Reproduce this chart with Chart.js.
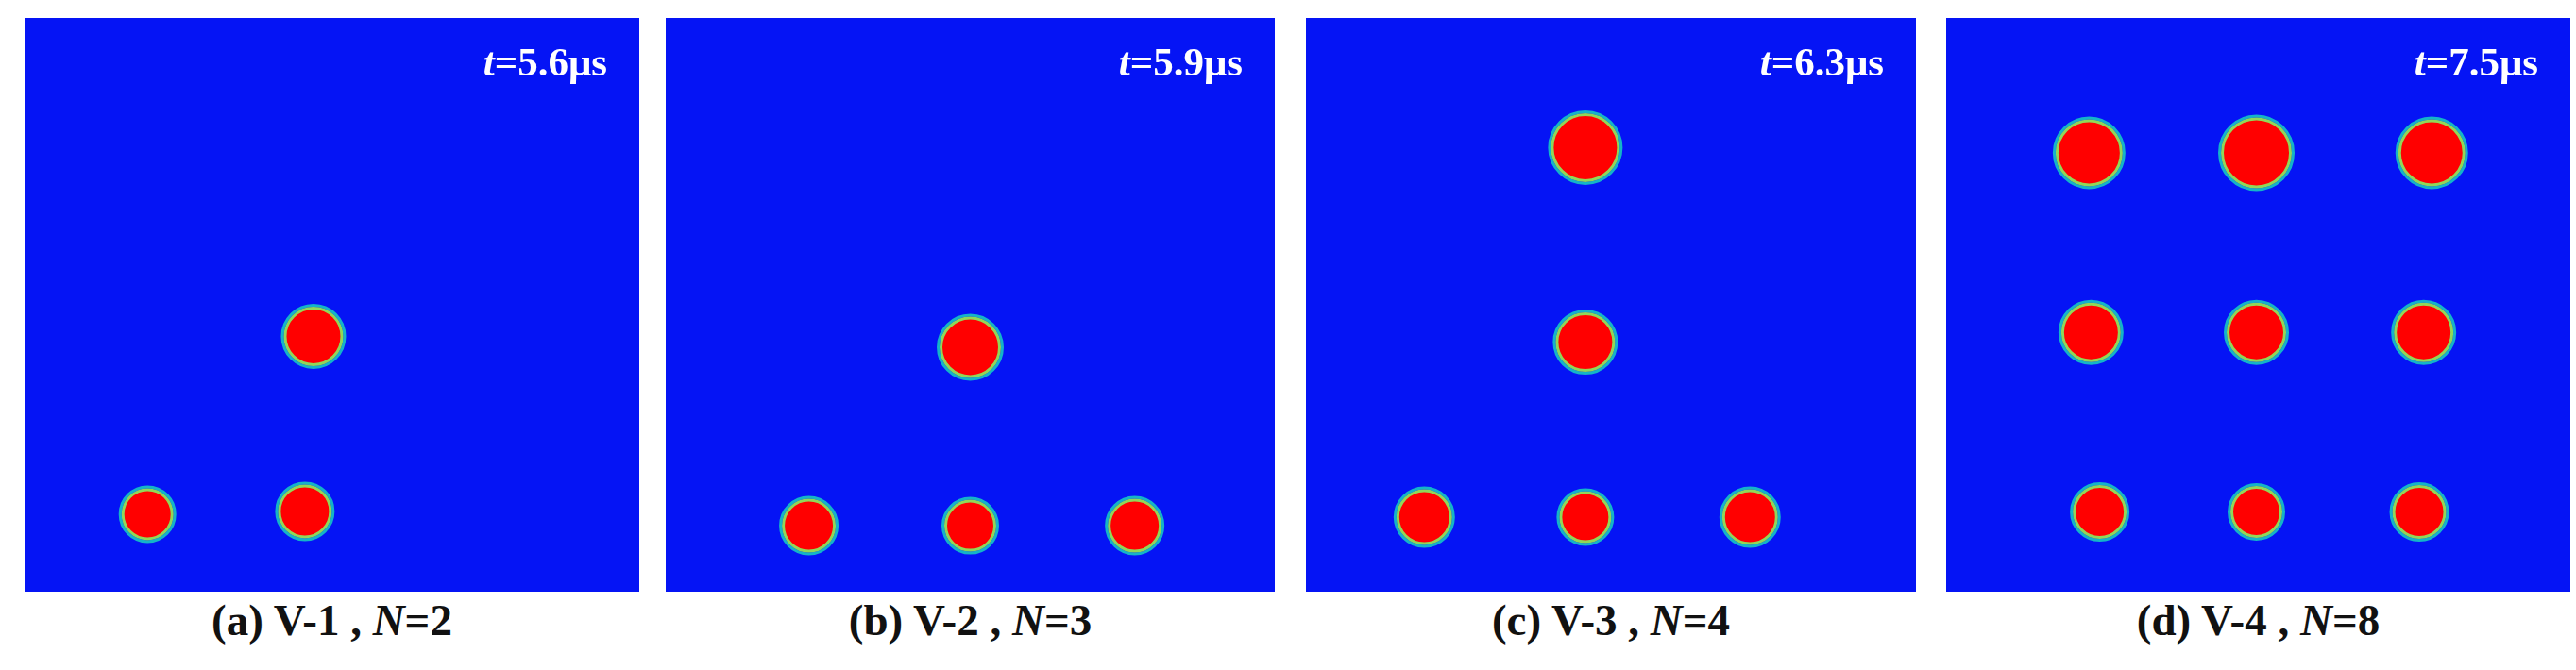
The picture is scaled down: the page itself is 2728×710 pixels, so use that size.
<!DOCTYPE html>
<html>
<head>
<meta charset="utf-8">
<script src="https://cdn.jsdelivr.net/npm/chart.js@4"></script>
<style>
  body { margin: 0; background: #fff; width: 2728px; height: 710px; position: relative; overflow: hidden; }
  .panel { position: absolute; top: 19px; height: 608px; }
  .panel canvas { position: absolute; left: 0; top: 0; }
  .time { position: absolute; top: 22px; right: 34px; color: #fff; font: bold 43px "Liberation Serif", serif; white-space: nowrap; }
  .cap { position: absolute; top: 630px; text-align: center; color: #111; font: bold 47px "Liberation Serif", serif; white-space: nowrap; }
</style>
</head>
<body>
<script>
// panel labels
var times = ["5.6", "5.9", "6.3", "7.5"];
var captions = [["(a) V-1 , ", "2"], ["(b) V-2 , ", "3"], ["(c) V-3 , ", "4"], ["(d) V-4 , ", "8"]];

// droplet centres, as fractions of the domain (y measured from the top)
var dropX = [
  [0.47, 0.20, 0.456],
  [0.50, 0.235, 0.50, 0.77],
  [0.458, 0.458, 0.194, 0.458, 0.728],
  [0.229, 0.497, 0.778, 0.232, 0.497, 0.765, 0.246, 0.497, 0.758]
];
var dropY = [
  [0.555, 0.865, 0.86],
  [0.574, 0.885, 0.885, 0.885],
  [0.226, 0.565, 0.87, 0.87, 0.87],
  [0.235, 0.235, 0.235, 0.548, 0.548, 0.548, 0.861, 0.861, 0.861]
];
// droplet radii in pixels
var dropR = [
  [30, 26, 27],
  [31, 27, 26, 27],
  [35, 30, 28, 26, 28],
  [34, 36, 34, 30, 30, 30, 27, 26, 27]
];

var panelLeft = [26, 705, 1383, 2061];
var panelWidth = [651, 645, 646, 661];
var panelHeight = 608;

var bluePlugin = {
  id: 'blueBg',
  beforeDraw: function (chart) {
    var ctx = chart.ctx;
    ctx.save();
    ctx.fillStyle = '#0514f5';
    ctx.fillRect(0, 0, chart.width, chart.height);
    ctx.restore();
  }
};

function panel(i) {
  var div = document.createElement('div');
  div.className = 'panel';
  div.style.left = panelLeft[i] + 'px';
  div.style.width = panelWidth[i] + 'px';
  var cv = document.createElement('canvas');
  cv.width = panelWidth[i];
  cv.height = panelHeight;
  cv.style.width = panelWidth[i] + 'px';
  cv.style.height = panelHeight + 'px';
  div.appendChild(cv);
  var t = document.createElement('div');
  t.className = 'time';
  t.innerHTML = '<i>t</i>=' + times[i] + 'μs';
  div.appendChild(t);
  document.body.appendChild(div);

  var cap = document.createElement('div');
  cap.className = 'cap';
  cap.style.left = panelLeft[i] + 'px';
  cap.style.width = panelWidth[i] + 'px';
  cap.innerHTML = captions[i][0] + '<i>N</i>=' + captions[i][1];
  document.body.appendChild(cap);

  var pts = dropX[i].map(function (x, k) { return { x: x, y: dropY[i][k] }; });
  new Chart(cv, {
    type: 'scatter',
    data: {
      datasets: [{
        data: pts,
        pointRadius: dropR[i],
        backgroundColor: '#ff0000',
        borderColor: '#90d858',
        borderWidth: 3
      }, {
        data: pts,
        pointRadius: dropR[i].map(function (r) { return r + 3; }),
        backgroundColor: 'rgba(0,0,0,0)',
        borderColor: '#14b4c8',
        borderWidth: 3
      }]
    },
    options: {
      responsive: false,
      animation: false,
      devicePixelRatio: 1,
      layout: { padding: 0, autoPadding: false },
      plugins: { legend: { display: false }, tooltip: { enabled: false } },
      scales: {
        x: { type: 'linear', min: 0, max: 1, display: false },
        y: { type: 'linear', min: 0, max: 1, reverse: true, display: false }
      }
    },
    plugins: [bluePlugin]
  });
}

for (var i = 0; i < 4; i++) { panel(i); }
</script>
</body>
</html>
